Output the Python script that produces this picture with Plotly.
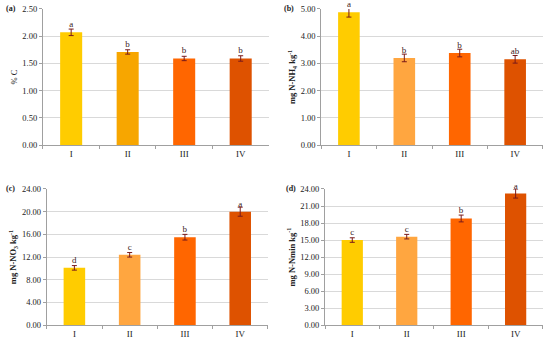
import plotly.graph_objects as go

categories = ["I", "II", "III", "IV"]

c_values = [2.07, 1.71, 1.59, 1.59]
c_errors = [0.06, 0.04, 0.04, 0.05]
c_letters = ["a", "b", "b", "b"]

nh4_values = [4.88, 3.20, 3.38, 3.15]
nh4_errors = [0.18, 0.14, 0.14, 0.14]
nh4_letters = ["a", "b", "b", "ab"]

no3_values = [10.1, 12.4, 15.5, 20.0]
no3_errors = [0.4, 0.4, 0.5, 0.8]
no3_letters = ["d", "c", "b", "a"]

nmin_values = [15.0, 15.6, 18.8, 23.2]
nmin_errors = [0.4, 0.4, 0.6, 0.8]
nmin_letters = ["c", "c", "b", "a"]

colors_a = ["#FFCC00", "#F7A600", "#FF6600", "#DE5200"]
colors_bcd = ["#FFCC00", "#FFA640", "#FF6600", "#DE5200"]

FONT = "Liberation Serif, Times New Roman, serif"

panels = [
    dict(vals=c_values, errs=c_errors, letters=c_letters, colors=colors_a,
         title="% C", rng=[0, 2.5], dtick=0.5, tag="(a)", tagx=4,
         xd=[0.078, 0.489], yd=[0.577, 0.974]),
    dict(vals=nh4_values, errs=nh4_errors, letters=nh4_letters, colors=colors_bcd,
         title="<b>mg N-NH<sub>4</sub> kg<sup>-1</sup></b>", rng=[0, 5], dtick=1, tag="(b)", tagx=282,
         xd=[0.584, 0.987], yd=[0.577, 0.974]),
    dict(vals=no3_values, errs=no3_errors, letters=no3_letters, colors=colors_bcd,
         title="<b>mg N-NO<sub>3</sub> kg<sup>-1</sup></b>", rng=[0, 24], dtick=4, tag="(c)", tagx=4,
         xd=[0.085, 0.487], yd=[0.052, 0.449]),
    dict(vals=nmin_values, errs=nmin_errors, letters=nmin_letters, colors=colors_bcd,
         title="<b>mg N-Nmin kg<sup>-1</sup></b>", rng=[0, 24], dtick=3, tag="(d)", tagx=284,
         xd=[0.591, 0.987], yd=[0.052, 0.449]),
]

fig = go.Figure()
layout = dict(
    width=550, height=343, margin=dict(l=0, r=0, t=0, b=0, autoexpand=False),
    paper_bgcolor="white", plot_bgcolor="white", showlegend=False,
    font=dict(family=FONT, size=9, color="#222"),
    annotations=[],
)

for i, p in enumerate(panels):
    n = "" if i == 0 else str(i + 1)
    xa, ya = "x" + n, "y" + n
    fig.add_trace(go.Bar(
        x=categories, y=p["vals"], xaxis=xa, yaxis=ya,
        marker=dict(color=p["colors"], line=dict(width=0)), width=0.39,
        error_y=dict(type="data", array=p["errs"], color="#7a1a1a", thickness=1, width=2.5),
        text=p["letters"], textposition="outside", cliponaxis=False,
        textfont=dict(family=FONT, size=9, color="#3a2020"),
    ))
    layout["xaxis" + n] = dict(
        domain=p["xd"], anchor=ya, showline=True, linecolor="#a0a0a0", linewidth=1,
        ticks="outside", tickson="boundaries", ticklen=3, tickcolor="#a0a0a0",
        tickfont=dict(family=FONT, size=9, color="#222"), showgrid=False, automargin=False,
    )
    layout["yaxis" + n] = dict(
        domain=p["yd"], anchor=xa, range=p["rng"], dtick=p["dtick"], tickformat=".2f",
        showline=True, linecolor="#a0a0a0", linewidth=1, ticks="outside", ticklen=3,
        tickcolor="#a0a0a0", showgrid=True, gridcolor="#d9d9d9", gridwidth=1,
        zeroline=False, tickfont=dict(family=FONT, size=8.5, color="#222"), automargin=False,
        title=dict(text=p["title"], font=dict(family=FONT, size=8.5, color="#222"), standoff=3),
    )
    layout["annotations"].append(dict(
        text="<b>" + p["tag"] + "</b>",
        x=p["tagx"] / 550, y=p["yd"][1], xref="paper", yref="paper",
        xanchor="left", yanchor="middle",
        showarrow=False, font=dict(family=FONT, size=8, color="#222"),
    ))

fig.update_layout(**layout)
fig.write_html(
    "out.html",
    config={"displayModeBar": False},
    post_script="document.body.style.margin='0';document.body.style.overflow='hidden';",
)
